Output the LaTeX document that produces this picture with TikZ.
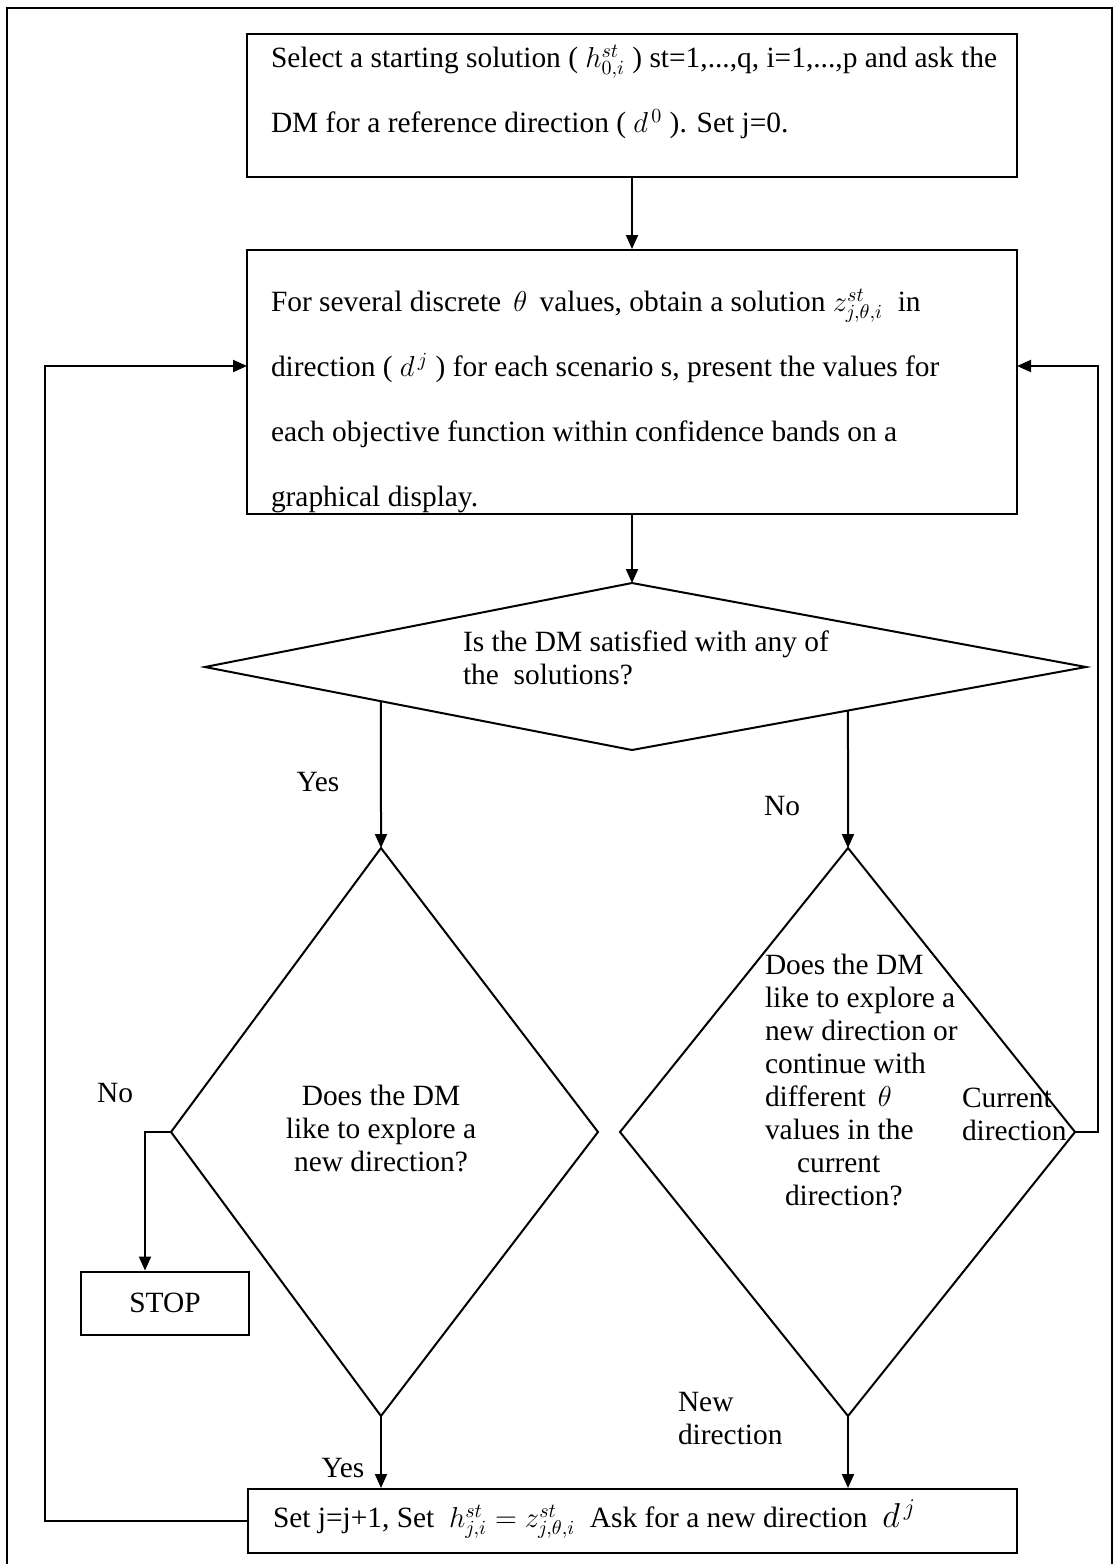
\documentclass[tikz,border=0pt]{standalone}
\usepackage{fontspec}
\setmainfont{Liberation Serif}
\usetikzlibrary{arrows.meta}
\tikzstyle{box}=[draw, line width=1pt, inner sep=0pt]
\tikzstyle{txt}=[align=left, inner sep=0pt, font=\fontsize{14.7}{32.5}\selectfont]
\tikzstyle{dtxt}=[inner sep=0pt, font=\fontsize{14.7}{16.5}\selectfont]
\tikzstyle{arr}=[-{Triangle[length=7pt,width=6pt]}]

\begin{document}
\begin{tikzpicture}[x=0.5pt, y=-0.5pt, line width=1pt]
    \useasboundingbox (0,0) rectangle (1114,1564);
% Frame
    \draw (7,1570) -- (7,8) -- (1112,8) -- (1112,1570);
% Boxes
    \node[box, minimum width=385pt, minimum height=71.5pt] (start) at (632,105.5) {};
    \node[box, minimum width=385pt, minimum height=132pt] (solve) at (632,382) {};
    \node[box, minimum width=84pt, minimum height=31.5pt, font=\fontsize{14.7}{16}\selectfont] (stop) at (165,1303) {STOP};
    \node[box, minimum width=384.5pt, minimum height=32pt] (update) at (632.5,1521) {};
% Box texts
    \node[txt, anchor=west] (startText) at (270,92)
        {Select a starting solution ( $h^{st}_{0,i}$ ) st=1,...,q, i=1,...,p and ask the\\
         DM for a reference direction ( $d^{\,0}$ ). Set j=0.};
    \node[txt, anchor=west] (solveText) at (270,401)
        {For several discrete \,$\theta$\, values, obtain a solution $z^{st}_{j,\theta,i}$ \ in\\
         direction ( $d^{\,j}$ ) for each scenario s, present the values for\\
         each objective function within confidence bands on a\\
         graphical display.};
    \node[txt, anchor=west] (updateText) at (272,1519)
        {Set j=j+1, Set \ $h^{st}_{j,i}=z^{st}_{j,\theta,i}$ \ Ask for a new direction \ {\fontsize{17.5}{20}\selectfont$d^{\,j}$}};
% Diamonds
    \coordinate (qN) at (632,583);
    \coordinate (qE) at (1086,667);
    \coordinate (qS) at (632,750);
    \coordinate (qW) at (205,667);
    \draw (qN) -- (qE) -- (qS) -- (qW) -- cycle;
    \coordinate (lN) at (381,848);
    \coordinate (lE) at (598,1132);
    \coordinate (lS) at (381,1416);
    \coordinate (lW) at (171,1132);
    \draw (lN) -- (lE) -- (lS) -- (lW) -- cycle;
    \coordinate (rN) at (848,848);
    \coordinate (rE) at (1075,1132);
    \coordinate (rS) at (848,1416);
    \coordinate (rW) at (620,1132);
    \draw (rN) -- (rE) -- (rS) -- (rW) -- cycle;
% Diamond texts
    \node[dtxt, align=left, anchor=west] (satisfied) at (462,658)
        {Is the DM satisfied with any of\\the \ solutions?};
    \node[dtxt, align=center] (newDir) at (381,1128)
        {Does the DM\\like to explore a\\new direction?};
    \node[dtxt, align=left, anchor=west] (orContinue) at (764,1080)
        {Does the DM\\like to explore a\\new direction or\\continue with\\different \,$\theta$\\values in the\\
         \hspace*{16pt}current\\\hspace*{10pt}direction?};
% Connectors
    \coordinate (noStub) at (145,1132);
    \coordinate (inL) at (247,366);
    \coordinate (inR) at (1017,366);
    \coordinate (lLoop) at (45,1521);
    \coordinate (rLoop) at (1098,1132);
    \draw[arr] (start.south) -- (solve.north);
    \draw[arr] (solve.south) -- (qN);
    \draw[arr] (intersection of qW--qS and lN--lS) -- (lN);
    \draw[arr] (intersection of qS--qE and rN--rS) -- (rN);
    \draw[arr] (lW) -- (noStub) -- (noStub |- stop.north);
    \draw[arr] (lS) -- (lS |- update.north);
    \draw[arr] (rS) -- (rS |- update.north);
    \draw[arr] (rE) -- (rLoop) |- (inR);
    \draw[arr] (update.west) -- (lLoop) |- (inL);
% Labels
    \node[dtxt] (yesQ) at (318,782) {Yes};
    \node[dtxt] (noQ) at (782,806) {No};
    \node[dtxt] (noL) at (115,1093) {No};
    \node[dtxt, align=left, anchor=west] (current) at (961,1114) {Current\\direction};
    \node[dtxt] (yesL) at (343,1468) {Yes};
    \node[dtxt, align=left, anchor=west] (newLabel) at (677,1418) {New\\direction};
\end{tikzpicture}
\end{document}
